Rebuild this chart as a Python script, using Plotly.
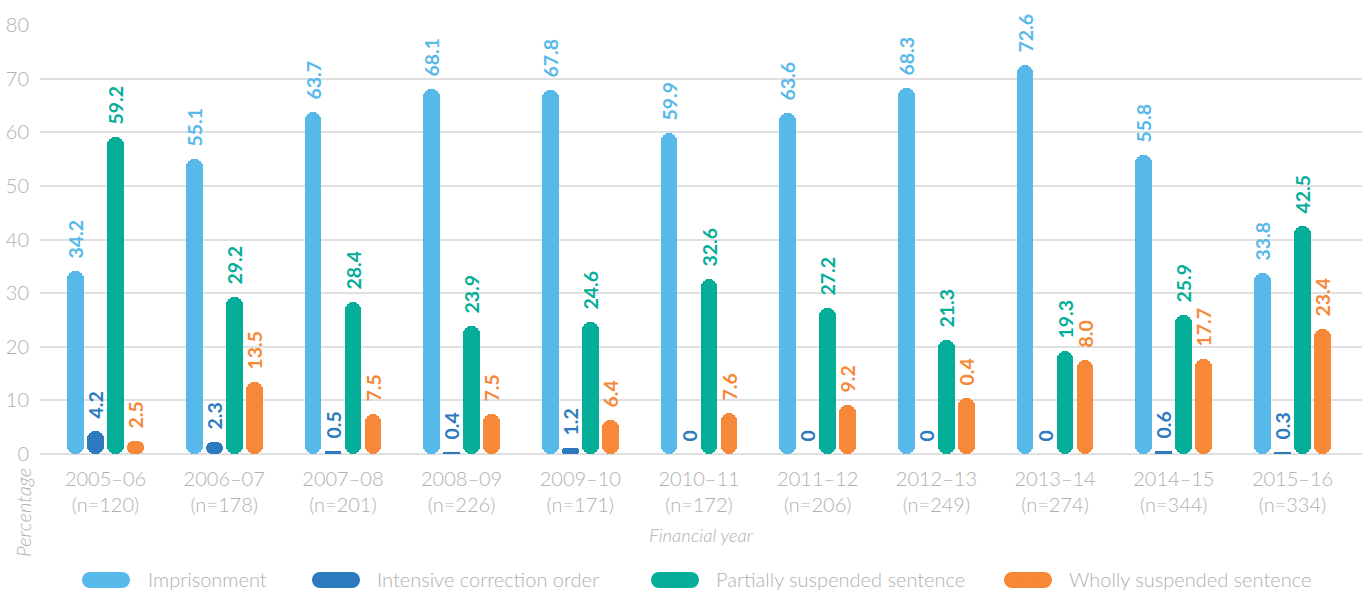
import plotly.graph_objects as go

# ---------------- data ----------------
years = ["2005–06", "2006–07", "2007–08", "2008–09", "2009–10", "2010–11",
         "2011–12", "2012–13", "2013–14", "2014–15", "2015–16"]
n_counts = [120, 178, 201, 226, 171, 172, 206, 249, 274, 344, 334]

imprisonment = [34.2, 55.1, 63.7, 68.1, 67.8, 59.9, 63.6, 68.3, 72.6, 55.8, 33.8]
intensive = [4.2, 2.3, 0.5, 0.4, 1.2, 0, 0, 0, 0, 0.6, 0.3]
partially = [59.2, 29.2, 28.4, 23.9, 24.6, 32.6, 27.2, 21.3, 19.3, 25.9, 42.5]
wholly = [2.5, 13.5, 7.5, 7.5, 6.4, 7.6, 9.2, 10.4, 17.6, 17.7, 23.4]

imprisonment_labels = ["34.2", "55.1", "63.7", "68.1", "67.8", "59.9", "63.6", "68.3", "72.6", "55.8", "33.8"]
intensive_labels = ["4.2", "2.3", "0.5", "0.4", "1.2", "0", "0", "0", "0", "0.6", "0.3"]
partially_labels = ["59.2", "29.2", "28.4", "23.9", "24.6", "32.6", "27.2", "21.3", "19.3", "25.9", "42.5"]
wholly_labels = ["2.5", "13.5", "7.5", "7.5", "6.4", "7.6", "9.2", "0.4", "8.0", "17.7", "23.4"]

series_names = ["Imprisonment", "Intensive correction order",
                "Partially suspended sentence", "Wholly suspended sentence"]
series_colors = ["#57b9e9", "#2d7abf", "#05ae98", "#f68838"]

# ---------------- layout constants ----------------
W, H = 1362, 590
ML, MR, MT, MB = 40, 0, 25, 136
PLOT_W = W - ML - MR
PLOT_H = H - MT - MB
CAT_PX = 118.7
X0 = -(105.5 - ML) / CAT_PX
X1 = X0 + PLOT_W / CAT_PX
BW_PX = 16.7
BW = BW_PX / CAT_PX
STEP = 20.0 / CAT_PX
Y_MAX = 80

GRAY = "#b0b0b0"
FONT = "Lato"

def pxx(p):
    return (p - ML) / PLOT_W

def pxy(p):
    return (H - MB - p) / PLOT_H

xs = list(range(len(years)))
ticktext = [f"{y}<br>(n={n})" for y, n in zip(years, n_counts)]

fig = go.Figure()

all_vals = [imprisonment, intensive, partially, wholly]
all_labels = [imprisonment_labels, intensive_labels, partially_labels, wholly_labels]

for k, (name, vals, labs, col) in enumerate(zip(series_names, all_vals, all_labels, series_colors)):
    off = (k - 1.5) * STEP - BW / 2
    # explicit base -> plotly rounds both ends, giving pill-shaped bars
    fig.add_trace(go.Bar(
        x=xs, y=vals, base=[0] * len(vals), width=BW, offset=off, name=name,
        marker=dict(color=col, cornerradius="50%", line_width=0),
        text=["\u00a0\u00a0" + t for t in labs], textposition="outside",
        textangle=-90, constraintext="none", cliponaxis=False,
        textfont=dict(family=FONT, size=19.5, color=col, weight="bold"),
        hoverinfo="skip", showlegend=False,
    ))

shapes = []
annotations = []

# custom legend with pill swatches
legend_swatch_x = [82, 312, 651, 1004]
legend_text_x = [146, 375, 714, 1067]
LEG_Y = 580
for name, col, sx, tx in zip(series_names, series_colors, legend_swatch_x, legend_text_x):
    r = 8
    shapes.append(dict(type="rect", xref="paper", yref="paper",
                       xsizemode="pixel", ysizemode="pixel",
                       xanchor=pxx(sx), yanchor=pxy(LEG_Y),
                       x0=r, x1=48 - r, y0=-r, y1=r,
                       fillcolor=col, line=dict(width=0), layer="above"))
    for cx in (r, 48 - r):
        shapes.append(dict(type="circle", xref="paper", yref="paper",
                           xsizemode="pixel", ysizemode="pixel",
                           xanchor=pxx(sx), yanchor=pxy(LEG_Y),
                           x0=cx - r, x1=cx + r, y0=-r, y1=r,
                           fillcolor=col, line=dict(width=0), layer="above"))
    annotations.append(dict(text=name, xref="paper", yref="paper",
                            x=pxx(tx), y=pxy(LEG_Y - 1), xanchor="left", yanchor="middle",
                            showarrow=False,
                            font=dict(family=FONT, size=20, color=GRAY, weight=300)))

annotations.append(dict(text="<i>Financial year</i>", xref="paper", yref="paper",
                        x=pxx(701), y=pxy(535), xanchor="center", yanchor="middle",
                        showarrow=False,
                        font=dict(family=FONT, size=18.5, color=GRAY, weight=300)))
annotations.append(dict(text="<i>Percentage</i>", xref="paper", yref="paper",
                        x=pxx(23), y=pxy(513), xanchor="center", yanchor="middle",
                        textangle=-90, showarrow=False,
                        font=dict(family=FONT, size=20, color=GRAY, weight=300)))

fig.update_layout(
    width=W, height=H,
    margin=dict(l=ML, r=MR, t=MT, b=MB, pad=0),
    paper_bgcolor="white", plot_bgcolor="white",
    barmode="overlay", bargap=0,
    showlegend=False,
    shapes=shapes, annotations=annotations,
    font=dict(family=FONT, color=GRAY),
    xaxis=dict(range=[X0, X1], tickmode="array", tickvals=xs, ticktext=ticktext,
               showgrid=False, zeroline=False, showline=False, ticks="",
               ticklabelstandoff=11,
               tickfont=dict(family=FONT, size=20, color=GRAY, weight=300),
               fixedrange=True),
    yaxis=dict(range=[0, Y_MAX], dtick=10, showgrid=True, gridcolor="#e0e0e0", gridwidth=1.5,
               zeroline=True, zerolinecolor="#e0e0e0", zerolinewidth=1.5,
               showline=False, ticks="", ticklabelstandoff=10,
               tickfont=dict(family=FONT, size=20, color=GRAY, weight=300),
               fixedrange=True),
)

fig.write_html("out.html")
